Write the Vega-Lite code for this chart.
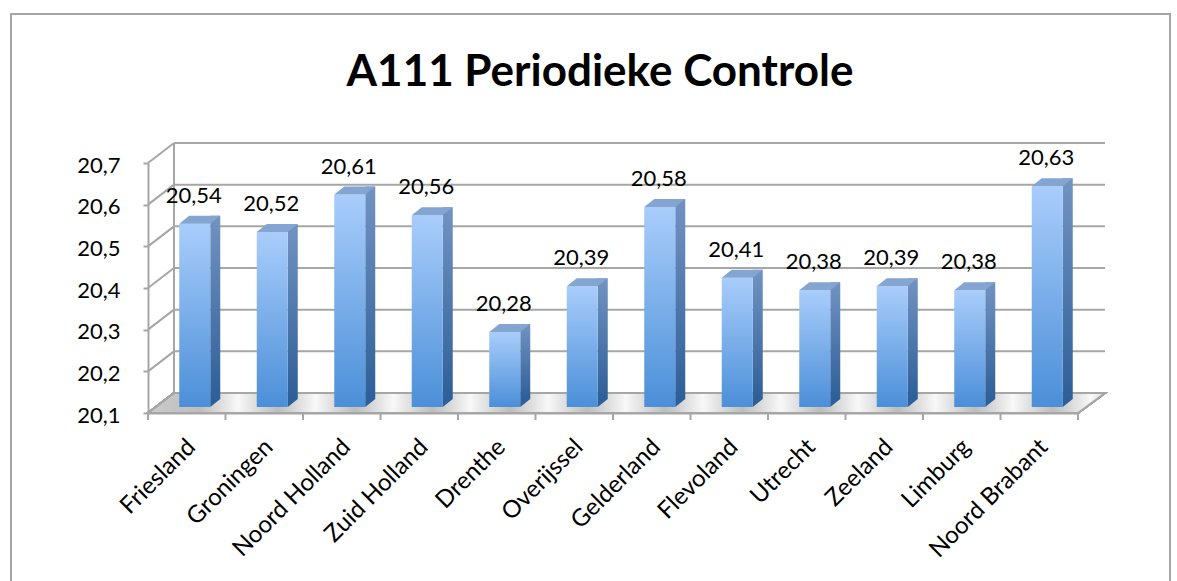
{
  "$schema": "https://vega.github.io/schema/vega-lite/v6.json",
  "autosize": "none",
  "width": 930,
  "height": 250,
  "padding": {"left": 148, "top": 163, "right": 99, "bottom": 168},
  "background": "white",
  "config": {
    "view": {"stroke": null},
    "font": "Lato",
    "locale": {"number": {"decimal": ",", "thousands": ".", "grouping": [3], "currency": ["€ ", ""]}}
  },
  "title": {
    "text": "A111 Periodieke Controle",
    "font": "Lato",
    "fontSize": 44,
    "fontWeight": "bold",
    "color": "black",
    "anchor": "middle",
    "dx": -13,
    "baseline": "alphabetic",
    "offset": -117
  },
  "resolve": {"axis": {"x": "independent", "y": "independent"}},
  "datasets": {
    "bars": [
      {"region": "Friesland", "value": 20.54},
      {"region": "Groningen", "value": 20.52},
      {"region": "Noord Holland", "value": 20.61},
      {"region": "Zuid Holland", "value": 20.56},
      {"region": "Drenthe", "value": 20.28},
      {"region": "Overijssel", "value": 20.39},
      {"region": "Gelderland", "value": 20.58},
      {"region": "Flevoland", "value": 20.41},
      {"region": "Utrecht", "value": 20.38},
      {"region": "Zeeland", "value": 20.39},
      {"region": "Limburg", "value": 20.38},
      {"region": "Noord Brabant", "value": 20.63}
    ],
    "ticks": [
      {"t": 20.1}, {"t": 20.2}, {"t": 20.3}, {"t": 20.4}, {"t": 20.5}, {"t": 20.6}, {"t": 20.7}
    ]
  },
  "layer": [
    {
      "data": {"name": "bars"},
      "mark": {"type": "rect", "fill": null, "fillOpacity": 0, "stroke": "#a6a6a6", "strokeWidth": 1.5, "xOffset": -137, "x2Offset": 92, "yOffset": -149, "y2Offset": 200},
      "encoding": {
        "x": {"datum": "Friesland", "type": "nominal", "bandPosition": 0, "scale": {"domain": ["Friesland","Groningen","Noord Holland","Zuid Holland","Drenthe","Overijssel","Gelderland","Flevoland","Utrecht","Zeeland","Limburg","Noord Brabant"], "paddingInner": 0, "paddingOuter": 0}, "axis": null},
        "x2": {"datum": "Noord Brabant", "bandPosition": 1},
        "y": {"datum": 20.7, "type": "quantitative", "scale": {"domain": [20.1, 20.7], "nice": false, "zero": false}, "axis": null},
        "y2": {"datum": 20.1}
      }
    },
    {
      "data": {"name": "bars"},
      "mark": {
        "type": "point", "shape": "M 0 0 L 930 0 L 957 -20 L 26 -20 Z", "size": 4, "filled": true, "opacity": 1,
        "fill": {"gradient": "linear", "x1": 0, "y1": 0, "x2": 1, "y2": 0, "stops": [
          {"offset": 0, "color": "#cccccc"},
          {"offset": 0.0543, "color": "#bdbdbd"}, {"offset": 0.094, "color": "#f8f8f8"},
          {"offset": 0.1353, "color": "#bdbdbd"}, {"offset": 0.175, "color": "#f8f8f8"},
          {"offset": 0.2163, "color": "#bdbdbd"}, {"offset": 0.256, "color": "#f8f8f8"},
          {"offset": 0.2973, "color": "#bdbdbd"}, {"offset": 0.337, "color": "#f8f8f8"},
          {"offset": 0.3783, "color": "#bdbdbd"}, {"offset": 0.418, "color": "#f8f8f8"},
          {"offset": 0.4592, "color": "#bdbdbd"}, {"offset": 0.499, "color": "#f8f8f8"},
          {"offset": 0.5402, "color": "#bdbdbd"}, {"offset": 0.58, "color": "#f8f8f8"},
          {"offset": 0.6212, "color": "#bdbdbd"}, {"offset": 0.661, "color": "#f8f8f8"},
          {"offset": 0.7022, "color": "#bdbdbd"}, {"offset": 0.7419, "color": "#f8f8f8"},
          {"offset": 0.7832, "color": "#bdbdbd"}, {"offset": 0.8229, "color": "#f8f8f8"},
          {"offset": 0.8642, "color": "#bdbdbd"}, {"offset": 0.9039, "color": "#f8f8f8"},
          {"offset": 0.9451, "color": "#bdbdbd"}, {"offset": 0.9849, "color": "#f8f8f8"},
          {"offset": 1, "color": "#e0e0e0"}
        ]},
        "stroke": "#a6a6a6", "strokeWidth": 2
      },
      "encoding": {
        "x": {"datum": "Friesland", "type": "nominal", "bandPosition": 0, "axis": null},
        "y": {"datum": 20.1, "type": "quantitative", "axis": null}
      }
    },
    {
      "data": {"name": "ticks"},
      "mark": {"type": "rule", "stroke": "#a6a6a6", "strokeWidth": 2, "xOffset": 26, "x2Offset": 27, "yOffset": -20, "y2Offset": -20},
      "encoding": {
        "x": {"datum": "Friesland", "type": "nominal", "bandPosition": 0, "axis": null},
        "x2": {"datum": "Noord Brabant", "bandPosition": 1},
        "y": {"field": "t", "type": "quantitative", "axis": null},
        "y2": {"field": "t"}
      }
    },
    {
      "data": {"name": "ticks"},
      "mark": {"type": "rule", "stroke": "#a6a6a6", "strokeWidth": 2, "x2Offset": 26, "y2Offset": -20},
      "encoding": {
        "x": {"datum": "Friesland", "type": "nominal", "bandPosition": 0, "axis": null},
        "x2": {"datum": "Friesland", "bandPosition": 0},
        "y": {"field": "t", "type": "quantitative", "axis": null},
        "y2": {"field": "t"}
      }
    },
    {
      "data": {"name": "bars"},
      "mark": {"type": "rule", "stroke": "#a6a6a6", "strokeWidth": 2, "xOffset": 26, "yOffset": -20, "y2Offset": -20},
      "encoding": {
        "x": {"datum": "Friesland", "type": "nominal", "bandPosition": 0, "axis": null},
        "y": {"datum": 20.7, "type": "quantitative", "axis": null},
        "y2": {"datum": 20.1}
      }
    },
    {
      "data": {"name": "bars"},
      "mark": {"type": "rule", "stroke": "#a6a6a6", "strokeWidth": 2, "y2Offset": 7},
      "encoding": {
        "x": {"field": "region", "type": "nominal", "bandPosition": 0, "axis": null},
        "y": {"datum": 20.1, "type": "quantitative", "axis": null},
        "y2": {"datum": 20.1}
      }
    },
    {
      "data": {"name": "bars"},
      "mark": {"type": "rule", "stroke": "#a6a6a6", "strokeWidth": 2, "y2Offset": 7},
      "encoding": {
        "x": {"datum": "Noord Brabant", "type": "nominal", "bandPosition": 1, "axis": null},
        "y": {"datum": 20.1, "type": "quantitative", "axis": null},
        "y2": {"datum": 20.1}
      }
    },
    {
      "data": {"name": "bars"},
      "mark": {"type": "bar", "width": 10, "xOffset": 28.5, "yOffset": -14, "y2Offset": -14,
        "color": {"gradient": "linear", "x1": 0, "y1": 0, "x2": 0, "y2": 1, "stops": [{"offset": 0, "color": "#7293c2"}, {"offset": 1, "color": "#2e5f98"}]}},
      "encoding": {
        "x": {"field": "region", "type": "nominal", "axis": null},
        "y": {"field": "value", "type": "quantitative", "axis": null},
        "y2": {"datum": 20.1}
      }
    },
    {
      "data": {"name": "bars"},
      "mark": {"type": "point", "shape": "M 0 0 L 0 -8 L 10 -8 Z", "size": 4, "filled": true, "opacity": 1, "fill": "#2e5f98", "strokeWidth": 0, "xOffset": 23.5, "yOffset": -6},
      "encoding": {
        "x": {"field": "region", "type": "nominal", "axis": null},
        "y": {"datum": 20.1, "type": "quantitative", "axis": null}
      }
    },
    {
      "data": {"name": "bars"},
      "mark": {"type": "bar", "width": 31, "xOffset": 8, "yOffset": -6, "y2Offset": -6,
        "color": {"gradient": "linear", "x1": 0, "y1": 0, "x2": 0, "y2": 1, "stops": [{"offset": 0, "color": "#a9cdfb"}, {"offset": 1, "color": "#4b8fd8"}]}},
      "encoding": {
        "x": {"field": "region", "type": "nominal", "axis": {
          "title": null, "labelAngle": -45, "labelAlign": "right", "labelBaseline": "middle",
          "labelFont": "Lato", "labelFontSize": 24, "labelColor": "black", "labelPadding": 30, "labelOffset": 5,
          "ticks": false, "domainColor": "#a6a6a6", "domainWidth": 2, "grid": false
        }},
        "y": {"field": "value", "type": "quantitative", "axis": {
          "title": null, "values": [20.1, 20.2, 20.3, 20.4, 20.5, 20.6, 20.7], "format": ".1f",
          "labelFont": "Lato", "labelFontSize": 22, "labelColor": "black", "labelPadding": 23, "labelOffset": 2,
          "tickSize": 5, "tickColor": "#a6a6a6", "tickWidth": 2, "domainColor": "#a6a6a6", "domainWidth": 2, "grid": false
        }},
        "y2": {"datum": 20.1}
      }
    },
    {
      "data": {"name": "bars"},
      "mark": {"type": "point", "shape": "M 0 0 L 31 0 L 41 -8 L 10 -8 Z", "size": 4, "filled": true, "opacity": 1, "fill": "#84a4d1", "strokeWidth": 0, "xOffset": -7.5, "yOffset": -6},
      "encoding": {
        "x": {"field": "region", "type": "nominal", "axis": null},
        "y": {"field": "value", "type": "quantitative", "axis": null}
      }
    },
    {
      "data": {"name": "bars"},
      "mark": {"type": "text", "font": "Lato", "fontSize": 22, "color": "black", "baseline": "alphabetic", "align": "center", "xOffset": 7, "yOffset": -27},
      "encoding": {
        "x": {"field": "region", "type": "nominal", "axis": null},
        "y": {"field": "value", "type": "quantitative", "axis": null},
        "text": {"field": "value", "type": "quantitative", "format": ".2f"}
      }
    }
  ]
}
